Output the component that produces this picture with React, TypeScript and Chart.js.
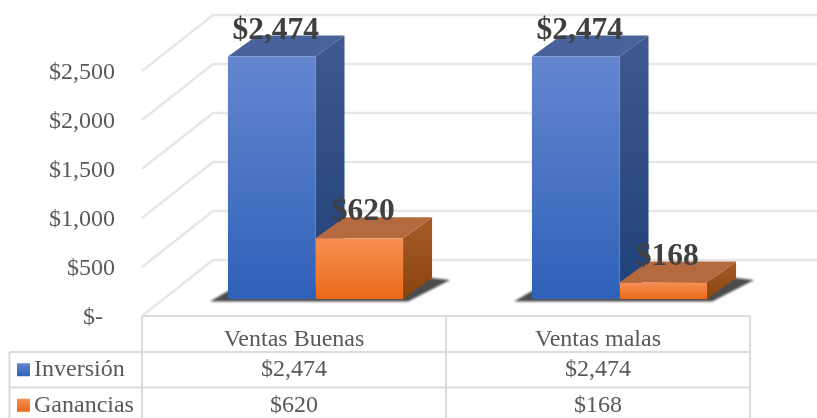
import React, { useEffect, useRef } from "react";
import { Chart, registerables } from "chart.js";

Chart.register(...registerables);

const categories = ["Ventas Buenas", "Ventas malas"];
const seriesNames = ["Inversión", "Ganancias"];
const inversion = [2474, 2474];
const ganancias = [620, 168];
const seriesValues = [inversion, ganancias];

const FONT = '"Liberation Serif", "Times New Roman", serif';
const TEXT = "#595959";
const LINE = "#dcdcdc";
const NUDGE = 1.5;
const WALL_DX = 71;
const WALL_DY = -56;
const BAR_DX = 21.5;
const BAR_DY = -17;
const DEPTH_DX = 29;
const DEPTH_DY = -21;
const ROW_H = 35.5;

const palette = [
  { frontTop: "#6486cf", frontBottom: "#2f61b9", sideTop: "#3f5a8e", sideBottom: "#1f4079", top: "#48629c" },
  { frontTop: "#f68f53", frontBottom: "#e96a17", sideTop: "#a75c28", sideBottom: "#89430f", top: "#b4693f" },
];

const money = (v: number) => "$" + v.toLocaleString("en-US");

const frontGradient = (c: any) => {
  const chart = c.chart;
  const s = chart.scales.y;
  const p = palette[c.datasetIndex];
  const v = seriesValues[c.datasetIndex][c.dataIndex];
  if (!s || v === undefined) return p.frontBottom;
  const y1 = s.getPixelForValue(v);
  const y2 = s.getPixelForValue(0);
  if (!Number.isFinite(y1) || !Number.isFinite(y2)) return p.frontBottom;
  const g = chart.ctx.createLinearGradient(0, y1, 0, y2);
  g.addColorStop(0, p.frontTop);
  g.addColorStop(1, p.frontBottom);
  return g;
};

const poly = (ctx: CanvasRenderingContext2D, pts: number[][]) => {
  ctx.beginPath();
  pts.forEach(([x, y], i) => (i ? ctx.lineTo(x, y) : ctx.moveTo(x, y)));
  ctx.closePath();
};

const scene = {
  id: "scene",
  beforeDatasetsDraw(chart: any) {
    const { ctx, chartArea, scales } = chart;
    const { left, right } = chartArea;
    // walls and floor
    ctx.save();
    ctx.strokeStyle = "#e6e6e6";
    ctx.lineWidth = 2.4;
    scales.y.ticks.forEach((t: any) => {
      const y = scales.y.getPixelForValue(t.value) - NUDGE;
      ctx.beginPath();
      ctx.moveTo(left, y);
      ctx.lineTo(left + WALL_DX, y + WALL_DY);
      ctx.lineTo(right + WALL_DX, y + WALL_DY);
      ctx.stroke();
    });
    ctx.restore();

    ctx.save();
    ctx.translate(BAR_DX, BAR_DY - NUDGE);
    // floor shadow for every group
    categories.forEach((_, j) => {
      const a = chart.getDatasetMeta(0).data[j];
      const b = chart.getDatasetMeta(1).data[j];
      const x0 = a.x - a.width / 2;
      const x1 = b.x + b.width / 2;
      const y0 = a.base;
      ctx.save();
      ctx.filter = "blur(1.2px)";
      ctx.fillStyle = "rgba(55,55,55,0.9)";
      poly(ctx, [
        [x0 - 18, y0 + 2.5],
        [x1 + 5, y0 + 2.5],
        [x1 + DEPTH_DX + 18, y0 + DEPTH_DY + 2],
        [x1 + DEPTH_DX, y0 + DEPTH_DY],
        [x0, y0 - 8],
      ]);
      ctx.fill();
      ctx.restore();
    });
    // side and top faces
    categories.forEach((_, j) => {
      seriesValues.forEach((__, i) => {
        const el = chart.getDatasetMeta(i).data[j];
        const p = palette[i];
        const l = el.x - el.width / 2;
        const r = el.x + el.width / 2;
        const g = ctx.createLinearGradient(0, el.y + DEPTH_DY, 0, el.base);
        g.addColorStop(0, p.sideTop);
        g.addColorStop(1, p.sideBottom);
        ctx.fillStyle = g;
        poly(ctx, [
          [r, el.y],
          [r + DEPTH_DX, el.y + DEPTH_DY],
          [r + DEPTH_DX, el.base + DEPTH_DY],
          [r, el.base],
        ]);
        ctx.fill();
        ctx.fillStyle = p.top;
        poly(ctx, [
          [l, el.y],
          [l + DEPTH_DX, el.y + DEPTH_DY],
          [r + DEPTH_DX, el.y + DEPTH_DY],
          [r, el.y],
        ]);
        ctx.fill();
      });
    });
    // front faces are drawn by the bar datasets inside this translation
  },
  afterDatasetsDraw(chart: any) {
    const { ctx, chartArea, scales } = chart;
    ctx.restore();
    // data labels
    ctx.save();
    ctx.font = `bold 31.5px ${FONT}`;
    ctx.fillStyle = "#404040";
    ctx.textAlign = "center";
    ctx.textBaseline = "middle";
    seriesValues.forEach((vals, i) => {
      vals.forEach((v, j) => {
        const el = chart.getDatasetMeta(i).data[j];
        ctx.fillText(money(v), el.x + BAR_DX + 4, el.y + BAR_DY - NUDGE - 26);
      });
    });
    ctx.restore();
    // data table
    const { left, right } = chartArea;
    const bottom = chartArea.bottom - NUDGE;
    const r1 = bottom + ROW_H + 0.5;
    const r2 = r1 + ROW_H;
    const r3 = r2 + ROW_H;
    const keyLeft = 9.5;
    ctx.save();
    ctx.strokeStyle = LINE;
    ctx.lineWidth = 2.2;
    const seg = (x1: number, y1: number, x2: number, y2: number) => {
      ctx.beginPath();
      ctx.moveTo(x1, y1);
      ctx.lineTo(x2, y2);
      ctx.stroke();
    };
    seg(left, bottom, right, bottom);
    seg(keyLeft, r1, right, r1);
    seg(keyLeft, r2, right, r2);
    seg(keyLeft, r1, keyLeft, r3);
    seg(left, bottom, left, r3);
    categories.forEach((_, j) => {
      const x = left + ((j + 1) * (right - left)) / categories.length;
      seg(x, bottom, x, r3);
    });
    ctx.font = `24px ${FONT}`;
    ctx.fillStyle = TEXT;
    ctx.textBaseline = "middle";
    seriesNames.forEach((name, i) => {
      const mid = r1 + ROW_H * i + ROW_H / 2;
      const g = ctx.createLinearGradient(0, mid - 6.5, 0, mid + 6.5);
      g.addColorStop(0, palette[i].frontTop);
      g.addColorStop(1, palette[i].frontBottom);
      ctx.fillStyle = g;
      ctx.fillRect(17, mid - 6.5, 13, 13);
      ctx.fillStyle = TEXT;
      ctx.textAlign = "left";
      ctx.fillText(name, 34, mid);
      ctx.textAlign = "center";
      seriesValues[i].forEach((v, j) => {
        ctx.fillText(money(v), scales.x.getPixelForValue(j), mid);
      });
    });
    ctx.restore();
  },
};

export default function App() {
  const ref = useRef<HTMLCanvasElement>(null);
  useEffect(() => {
    const chart = new Chart(ref.current!, {
      type: "bar",
      data: {
        labels: categories,
        datasets: seriesNames.map((label, i) => ({
          label,
          data: seriesValues[i],
          backgroundColor: frontGradient,
          borderWidth: 0,
          categoryPercentage: 0.576,
          barPercentage: 1,
          clip: false as any,
        })),
      },
      options: {
        animation: false,
        responsive: false,
        layout: { padding: { left: 0, top: 71 + NUDGE, right: 67, bottom: 0 } },
        plugins: { legend: { display: false }, tooltip: { enabled: false } },
        scales: {
          x: {
            grid: { display: false, drawTicks: false },
            border: { display: false },
            ticks: { padding: 8, color: TEXT, font: { family: FONT, size: 24 }, maxRotation: 0 },
            afterFit: (s: any) => {
              s.height = 102 - NUDGE;
            },
          },
          y: {
            min: 0,
            max: 2500,
            grid: { display: false, drawTicks: false },
            border: { display: false },
            ticks: {
              stepSize: 500,
              padding: 27,
              color: TEXT,
              font: { family: FONT, size: 24 },
              callback: (v: any) => (v === 0 ? "$-  " : money(Number(v))),
            },
            afterFit: (s: any) => {
              s.width = 142;
            },
          },
        },
      },
      plugins: [scene],
    });
    return () => chart.destroy();
  }, []);
  return (
    <div style={{ position: "absolute", left: 0, top: 0, width: 817, height: 418, overflow: "hidden", background: "#fff" }}>
      <canvas ref={ref} width={817} height={418} style={{ display: "block" }} />
    </div>
  );
}
